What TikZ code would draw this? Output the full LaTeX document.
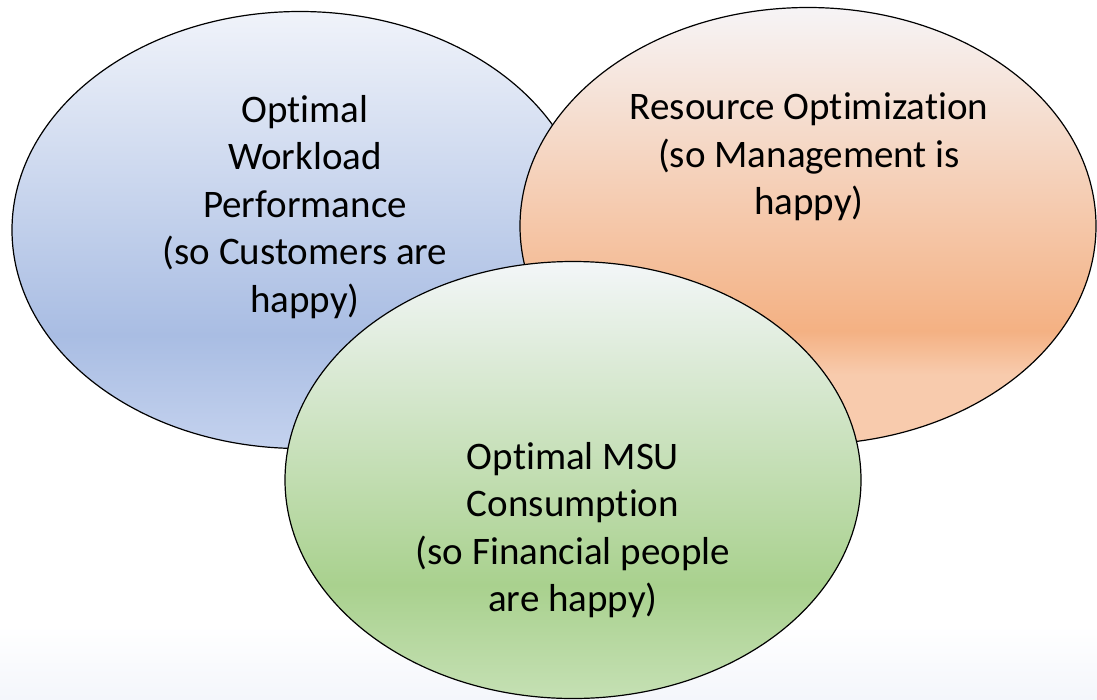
\documentclass[tikz,border=0pt]{standalone}
\usepackage{fontspec}
\setmainfont{Carlito}[Ligatures={NoCommon,TeX}]
\usetikzlibrary{shapes.geometric}

\definecolor{perfTop}{HTML}{F0F3FA}
\definecolor{perfMid}{HTML}{A9BDE3}
\definecolor{perfBot}{HTML}{C4D2EE}
\definecolor{resTop}{HTML}{F6F4F6}
\definecolor{resMid}{HTML}{F4B183}
\definecolor{resBot}{HTML}{F8CBAD}
\definecolor{msuTop}{HTML}{F3F6F8}
\definecolor{msuMid}{HTML}{A9D18E}
\definecolor{msuBot}{HTML}{C5E0B4}
\definecolor{floorBot}{HTML}{F4F6FB}

\pgfdeclareverticalshading{perfshade}{100bp}{color(0bp)=(perfBot); color(25bp)=(perfBot); color(38bp)=(perfMid); color(75bp)=(perfTop); color(100bp)=(perfTop)}
\pgfdeclareverticalshading{resshade}{100bp}{color(0bp)=(resBot); color(25bp)=(resBot); color(33bp)=(resBot); color(38bp)=(resMid); color(75bp)=(resTop); color(100bp)=(resTop)}
\pgfdeclareverticalshading{msushade}{100bp}{color(0bp)=(msuBot); color(25bp)=(msuBot); color(38bp)=(msuMid); color(75bp)=(msuTop); color(100bp)=(msuTop)}

\begin{document}
\begin{tikzpicture}[x=1pt,y=-1pt,
    venn/.style={ellipse,draw=black,line width=1.2pt,inner sep=0pt,
      minimum width=576pt,minimum height=437pt},
    goal/.style={align=center,font=\fontsize{39}{47.5}\selectfont,inner sep=0pt}]
    \useasboundingbox (0,0) rectangle (1097,699);
    % faint floor
    \shade[top color=white,bottom color=floorBot] (0,625) rectangle (1097,699);

    % the three goals
    \node[venn,shading=perfshade] (perf) at (300,230) {};
    \node[venn,shading=resshade] (res) at (808,226) {};
    \node[venn,shading=msushade] (msu) at (573,480) {};

    \node[goal] (perfText) at (305,207) {Optimal\\Workload\\Performance\\(so Customers are\\happy)};
    \node[goal] (resText) at (809,157) {Resource Optimization\\(so Management is\\happy)};
    \node[goal] (msuText) at (573,530) {Optimal MSU\\Consumption\\(so Financial people\\are happy)};
\end{tikzpicture}
\end{document}
